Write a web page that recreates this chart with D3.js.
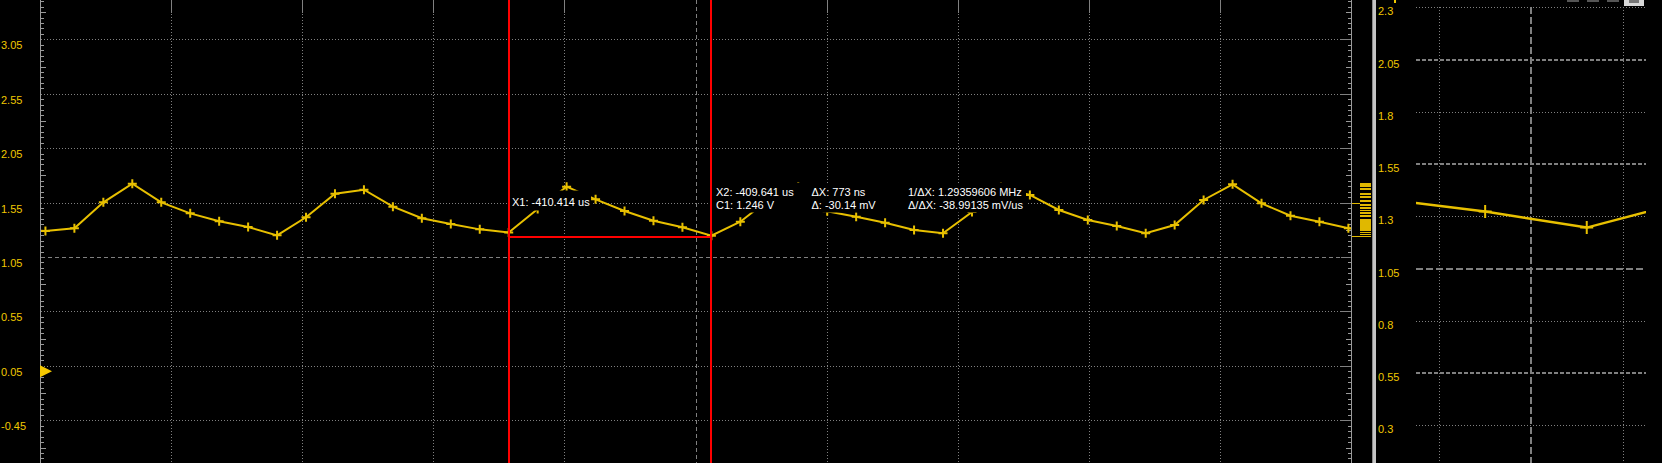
<!DOCTYPE html>
<html><head><meta charset="utf-8">
<script src="https://cdn.jsdelivr.net/npm/d3@7"></script>
<style>html,body{margin:0;padding:0;background:#000;overflow:hidden}svg{display:block}</style>
</head><body><svg id="c" width="1662" height="463"></svg>
<script>
// ---------- data ----------
const voltTicks = [3.05, 2.55, 2.05, 1.55, 1.05, 0.55, 0.05, -0.45];
const voltTickLabels = ["3.05", "2.55", "2.05", "1.55", "1.05", "0.55", "0.05", "-0.45"];
const zoomTicks = [2.3, 2.05, 1.8, 1.55, 1.3, 1.05, 0.8, 0.55, 0.3];
const zoomTickLabels = ["2.3", "2.05", "1.8", "1.55", "1.3", "1.05", "0.8", "0.55", "0.3"];
const timeCenter = -409.7016;        // us
const timePerDiv = 0.5;              // us
const zoomTimePerDiv = 0.1;          // us
const sampleStart = -412.2913;       // us, first sample time
const sampleInterval = 0.110429;     // us
const voltages = [1.30, 1.289, 1.314, 1.552, 1.723, 1.552, 1.451, 1.378, 1.326, 1.249,
  1.415, 1.631, 1.668, 1.512, 1.406, 1.353, 1.304, 1.276, 1.491, 1.696,
  1.580, 1.473, 1.383, 1.323, 1.246, 1.374, 1.583, 1.693, 1.47, 1.420,
  1.365, 1.298, 1.268, 1.463, 1.69, 1.620, 1.482, 1.390, 1.335, 1.268,
  1.344, 1.574, 1.718, 1.543, 1.429, 1.374, 1.314, 1.29];
const cursorTimes = [-410.414, -409.641];
const cursorLevel = 1.246;
const histogramBins = [[1.693,1.732],[1.663,1.681],[1.617,1.635],[1.593,1.607],[1.556,1.575],
  [1.519,1.538],[1.492,1.506],[1.469,1.483],[1.446,1.459],[1.422,1.436],[1.293,1.399],
  [1.270,1.284],[1.251,1.261]];
const histMarks = [1.545, 1.243];
const groundLevel = 0;
const labelX1 = ["X1: -410.414 us"];
const labelX2 = ["X2: -409.641 us", "C1: 1.246 V"];
const labelDelta = ["\u0394X: 773 ns", "\u0394: -30.14 mV"];
const labelInv = ["1/\u0394X: 1.29359606 MHz", "\u0394/\u0394X: -38.99135 mV/us"];

// ---------- setup ----------
const W = 1662, H = 463;
const svg = d3.select("#c");
svg.append("rect").attr("width", W).attr("height", H).attr("fill", "#000");
const FONT = "'Liberation Sans', Arial, sans-serif";
const YEL = "#f0c800", TRACE = "#e8c000", GRID = "#808080";
const crisp = v => Math.round(v) + 0.5;

const x = d3.scaleLinear().domain([timeCenter - 5 * timePerDiv, timeCenter + 5 * timePerDiv]).range([40, 1351]);
const y = d3.scaleLinear().domain([3.05, -0.45]).range([39.3, 420.3]);
const zx = d3.scaleLinear().domain([timeCenter - 1.25 * zoomTimePerDiv, timeCenter + 1.25 * zoomTimePerDiv]).range([1416, 1646]);
const zy = d3.scaleLinear().domain([2.3, 0.3]).range([7.3, 425.3]);

const pts = voltages.map((v, i) => ({ t: sampleStart + i * sampleInterval, v }));

const defs = svg.append("defs");
defs.append("clipPath").attr("id", "mainClip").append("rect").attr("x", 41).attr("y", 0).attr("width", 1310).attr("height", H);
defs.append("clipPath").attr("id", "zoomClip").append("rect").attr("x", 1416).attr("y", 0).attr("width", 230).attr("height", H);

// ---------- main grid ----------
const g = svg.append("g").attr("shape-rendering", "crispEdges");
voltTicks.forEach((v, i) => {
  const yy = crisp(y(v));
  const center = Math.abs(v - 1.05) < 1e-6;
  g.append("line").attr("x1", 41).attr("x2", 1341).attr("y1", yy).attr("y2", yy)
    .attr("stroke", GRID).attr("stroke-dasharray", center ? "4,3" : "1,2");
  g.append("line").attr("x1", 1341).attr("x2", 1351).attr("y1", yy).attr("y2", yy).attr("stroke", GRID);
});
d3.range(-4, 5).forEach(j => {
  const xx = crisp(x(timeCenter + j * timePerDiv));
  if (j === 0) {
    g.append("line").attr("x1", xx).attr("x2", xx).attr("y1", 0).attr("y2", H)
      .attr("stroke", GRID).attr("stroke-dasharray", "4,3");
  } else {
    g.append("line").attr("x1", xx).attr("x2", xx).attr("y1", 0).attr("y2", 13).attr("stroke", GRID);
    g.append("line").attr("x1", xx).attr("x2", xx).attr("y1", 14).attr("y2", H)
      .attr("stroke", GRID).attr("stroke-dasharray", "1,2");
  }
});
// axes
[40, 1351].forEach(ax => {
  g.append("line").attr("x1", ax + 0.5).attr("x2", ax + 0.5).attr("y1", 0).attr("y2", H).attr("stroke", "#9a9a9a");
});
d3.range(-40, 48).forEach(i => {
  if (i % 10 === 0) return;
  const v = 1.05 + i * 0.05;
  const yy = crisp(y(v));
  if (yy < 0 || yy > H) return;
  const len = (i % 5 === 0) ? 5 : 3;
  g.append("line").attr("x1", 41).attr("x2", 41 + len).attr("y1", yy).attr("y2", yy).attr("stroke", "#9a9a9a");
  g.append("line").attr("x1", 1351 - len).attr("x2", 1351).attr("y1", yy).attr("y2", yy).attr("stroke", "#9a9a9a");
});

// tick labels main
svg.append("g").selectAll("text").data(voltTicks).join("text")
  .attr("x", 1).attr("y", d => y(d) + 10)
  .attr("fill", YEL).attr("font-family", FONT).attr("font-size", 11)
  .text((d, i) => voltTickLabels[i]);

// ---------- main trace ----------
const tr = svg.append("g").attr("clip-path", "url(#mainClip)");
const line = d3.line().x(d => x(d.t)).y(d => y(d.v));
tr.append("path").attr("d", line(pts)).attr("fill", "none").attr("stroke", TRACE).attr("stroke-width", 2);
tr.selectAll("path.cr").data(pts).join("path").attr("class", "cr")
  .attr("d", d => { const px = x(d.t), py = y(d.v); return `M${px - 4.5},${py}h9M${px},${py - 4.5}v9`; })
  .attr("stroke", TRACE).attr("stroke-width", 2).attr("fill", "none");

// ---------- cursor labels with black backgrounds ----------
svg.append("rect").attr("x", 510).attr("y", 190.5).attr("width", 81).attr("height", 20).attr("fill", "#000");
svg.append("rect").attr("x", 713).attr("y", 183).attr("width", 313).attr("height", 29.5).attr("fill", "#000");
function lbl(lines, lx, ys) {
  lines.forEach((s, i) => svg.append("text").attr("x", lx).attr("y", ys[i])
    .attr("fill", "#fff").attr("font-family", FONT).attr("font-size", 11).text(s));
}
lbl(labelX1, 512, [205.5]);
lbl(labelX2, 716, [195.5, 209]);
lbl(labelDelta, 811.5, [195.5, 209]);
lbl(labelInv, 908, [195.5, 209]);

// ---------- red cursors ----------
const rc = svg.append("g").attr("shape-rendering", "crispEdges");
cursorTimes.forEach(t => {
  const xx = Math.round(x(t));
  rc.append("line").attr("x1", xx).attr("x2", xx).attr("y1", 0).attr("y2", H).attr("stroke", "#ff0000").attr("stroke-width", 2);
});
rc.append("line").attr("x1", Math.round(x(cursorTimes[0]))).attr("x2", Math.round(x(cursorTimes[1])))
  .attr("y1", Math.round(y(cursorLevel)) + 1).attr("y2", Math.round(y(cursorLevel)) + 1)
  .attr("stroke", "#ff0000").attr("stroke-width", 2);

// ground marker
const gy = y(groundLevel);
svg.append("path").attr("d", `M40,${gy - 6}L52,${gy}L40,${gy + 6}Z`).attr("fill", "#f5c800");

// ---------- histogram strip ----------
const hs = svg.append("g").attr("shape-rendering", "crispEdges");
hs.selectAll("rect").data(histogramBins).join("rect")
  .attr("x", 1360).attr("width", 11).attr("y", d => y(d[1])).attr("height", d => Math.max(1, y(d[0]) - y(d[1])))
  .attr("fill", "#e0b800");
hs.append("line").attr("x1", 1352).attr("x2", 1360).attr("y1", crisp(y(histMarks[0]))).attr("y2", crisp(y(histMarks[0]))).attr("stroke", "#e0b800");
hs.append("line").attr("x1", 1352).attr("x2", 1371).attr("y1", crisp(y(histMarks[1]))).attr("y2", crisp(y(histMarks[1]))).attr("stroke", "#e0b800");

// separator
svg.append("rect").attr("x", 1372).attr("y", 0).attr("width", 4).attr("height", H).attr("fill", "#c4c4c4");
svg.append("rect").attr("x", 1372).attr("y", 0).attr("width", 1).attr("height", H).attr("fill", "#8a8a8a");

// ---------- zoom panel ----------
const zg = svg.append("g").attr("shape-rendering", "crispEdges");
zoomTicks.forEach((v, i) => {
  const yy = Math.round(zy(v));
  const center = Math.abs(v - 1.05) < 1e-6;
  const dashed = (i % 2 === 1) && !center;
  if (center) {
    zg.append("line").attr("x1", 1416).attr("x2", 1646).attr("y1", yy).attr("y2", yy)
      .attr("stroke", GRID).attr("stroke-width", 2).attr("stroke-dasharray", "7,3");
  } else if (dashed) {
    zg.append("line").attr("x1", 1416).attr("x2", 1646).attr("y1", yy).attr("y2", yy)
      .attr("stroke", GRID).attr("stroke-width", 2).attr("stroke-dasharray", "4,2");
  } else {
    zg.append("line").attr("x1", 1416).attr("x2", 1646).attr("y1", yy + 0.5).attr("y2", yy + 0.5)
      .attr("stroke", GRID).attr("stroke-dasharray", "1,2");
  }
});
[-1, 0, 1].forEach(j => {
  const xx = zx(timeCenter + j * zoomTimePerDiv);
  if (j === 0) {
    zg.append("line").attr("x1", Math.round(xx)).attr("x2", Math.round(xx)).attr("y1", 7).attr("y2", H)
      .attr("stroke", GRID).attr("stroke-width", 2).attr("stroke-dasharray", "7,3");
  } else {
    zg.append("line").attr("x1", crisp(xx)).attr("x2", crisp(xx)).attr("y1", 7).attr("y2", H)
      .attr("stroke", GRID).attr("stroke-dasharray", "1,2");
  }
});
svg.append("g").selectAll("text").data(zoomTicks).join("text")
  .attr("x", 1378).attr("y", d => zy(d) + 8)
  .attr("fill", YEL).attr("font-family", FONT).attr("font-size", 11)
  .text((d, i) => zoomTickLabels[i]);

const zt = svg.append("g").attr("clip-path", "url(#zoomClip)");
const zline = d3.line().x(d => zx(d.t)).y(d => zy(d.v));
zt.append("path").attr("d", zline(pts)).attr("fill", "none").attr("stroke", TRACE).attr("stroke-width", 2.5);
zt.selectAll("path.cr").data(pts).join("path").attr("class", "cr")
  .attr("d", d => { const px = zx(d.t), py = zy(d.v); return `M${px - 6.5},${py}h13M${px},${py - 6.5}v13`; })
  .attr("stroke", TRACE).attr("stroke-width", 2).attr("fill", "none");

// small top decorations
svg.append("rect").attr("x", 1394).attr("y", 0).attr("width", 2).attr("height", 3).attr("fill", YEL);
[1567, 1587, 1607].forEach(bx => svg.append("rect").attr("x", bx).attr("y", 0).attr("width", 12).attr("height", 2).attr("fill", "#555"));
svg.append("rect").attr("x", 1624).attr("y", 0).attr("width", 20).attr("height", 6).attr("fill", "#d8d8d8");
svg.append("rect").attr("x", 1629).attr("y", 0).attr("width", 10).attr("height", 3).attr("fill", "#777");
</script></body></html>
